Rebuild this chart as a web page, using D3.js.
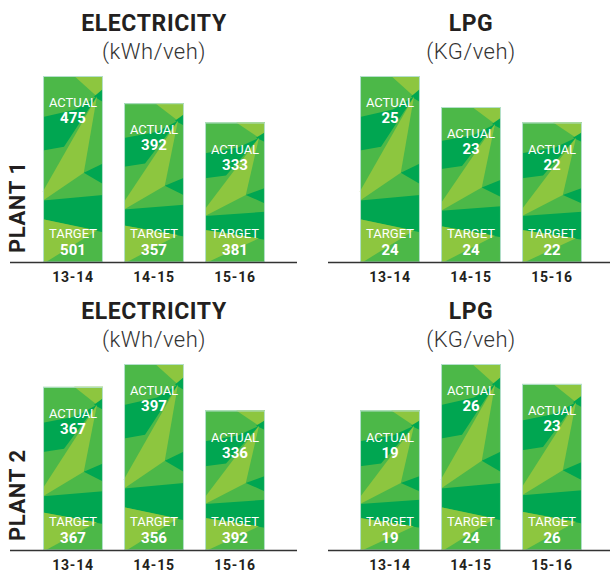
<!DOCTYPE html>
<html lang="en">
<head>
<meta charset="UTF-8">
<title>Plant energy use: Electricity and LPG</title>
<script src="https://d3js.org/d3.v7.min.js"></script>
<style>
    body { margin: 0; background: #fff; font-family: Roboto, Arial, sans-serif; }
    svg { display: block; }
</style>
</head>
<body>
<div id="chart"></div>
<script>
    // data
    const years = ["13-14", "14-15", "15-16"];
    const plants = ["PLANT 1", "PLANT 2"];
    const metrics = ["ELECTRICITY", "LPG"];
    const units = ["(kWh/veh)", "(KG/veh)"];

    const p1ElecActual = [475, 392, 333];
    const p1ElecTarget = [501, 357, 381];
    const p1LpgActual = [25, 23, 22];
    const p1LpgTarget = [24, 24, 22];
    const p2ElecActual = [367, 397, 336];
    const p2ElecTarget = [367, 356, 392];
    const p2LpgActual = [19, 26, 23];
    const p2LpgTarget = [19, 24, 26];

    const actuals = [[p1ElecActual, p1LpgActual], [p2ElecActual, p2LpgActual]];
    const targets = [[p1ElecTarget, p1LpgTarget], [p2ElecTarget, p2LpgTarget]];

    const W = 612, H = 572;
    const dark = "#00a651", mid = "#4cb848", light = "#8dc63f";

    // low-poly texture inside each bar, unit coords (u across, v up from bottom)
    const facets = [
        {c: dark,  pts: [[0, 0.78], [0.55, 0.82], [0.9, 0.89], [0.35, 0.62], [0, 0.60]]},
        {c: light, pts: [[0.52, 1], [1, 1], [1, 0.93], [0.9, 0.89]]},
        {c: dark,  pts: [[0.85, 0.89], [1, 0.93], [1, 0.86]]},
        {c: light, pts: [[0, 0.33], [0, 0.38], [0.9, 0.89], [0.68, 0.48]]},
        {c: dark,  pts: [[0.68, 0.48], [1, 0.53], [1, 0.42]]},
        {c: dark,  pts: [[0, 0.33], [1, 0.36], [1, 0.16], [0, 0.23]]},
        {c: light, pts: [[0, 0.23], [0.9, 0.17], [0.05, 0], [0, 0]]}
    ];

    const svg = d3.select("#chart").append("svg")
        .attr("width", W).attr("height", H);

    const rowBase = [262, 550];
    const colRange = [[32.5, 275.5], [349.5, 592.5]];
    const lineExtent = [[10, 297], [328, 610]];
    const maxBar = 186;

    plants.forEach((plant, r) => {
        const base = rowBase[r];

        svg.append("text")
            .attr("transform", `translate(25,${base - 9}) rotate(-90)`)
            .attr("font-size", 22)
            .attr("font-weight", 700)
            .attr("letter-spacing", 0.6)
            .attr("fill", "#231f20")
            .text(plant);

        metrics.forEach((metric, c) => {
            const act = actuals[r][c], tgt = targets[r][c];
            const g = svg.append("g");

            const x = d3.scaleBand()
                .domain(years)
                .range(colRange[c])
                .paddingInner(0.26)
                .paddingOuter(0.13);

            const [lo, hi] = d3.extent(act);
            const y = d3.scaleLinear()
                .domain([lo - 3 * (hi - lo), hi])
                .range([base, base - maxBar]);

            const cx = (colRange[c][0] + colRange[c][1]) / 2;
            g.append("text")
                .attr("x", cx).attr("y", base - 231)
                .attr("text-anchor", "middle")
                .attr("font-size", 23).attr("font-weight", 700)
                .attr("letter-spacing", 0.6)
                .attr("fill", "#231f20")
                .text(metric);
            g.append("text")
                .attr("x", cx).attr("y", base - 203)
                .attr("text-anchor", "middle")
                .attr("font-size", 22).attr("font-weight", 300)
                .attr("letter-spacing", 0.5)
                .attr("fill", "#333")
                .text(units[c]);

            years.forEach((yr, i) => {
                const x0 = x(yr), bw = x.bandwidth();
                const top = y(act[i]);
                const bar = g.append("g");

                bar.append("rect")
                    .attr("x", x0).attr("y", top)
                    .attr("width", bw).attr("height", base - top)
                    .attr("fill", mid);

                const u = d3.scaleLinear().domain([0, 1]).range([x0, x0 + bw]);
                const v = d3.scaleLinear().domain([0, 1]).range([base, top]);
                bar.selectAll("polygon")
                    .data(facets)
                    .join("polygon")
                    .attr("points", d => d.pts.map(p => `${u(p[0])},${v(p[1])}`).join(" "))
                    .attr("fill", d => d.c);

                bar.append("rect")
                    .attr("x", x0 + 0.5).attr("y", top + 0.5)
                    .attr("width", bw - 1).attr("height", base - top - 0.5)
                    .attr("fill", "none")
                    .attr("stroke", "#b4e0cc")
                    .attr("stroke-width", 1);

                const mx = x0 + bw / 2;
                const lbl = (txt, yy, size, weight) => bar.append("text")
                    .attr("x", mx).attr("y", yy)
                    .attr("text-anchor", "middle")
                    .attr("font-size", size).attr("font-weight", weight)
                    .attr("fill", "#fff")
                    .text(txt);
                lbl("ACTUAL", top + 31, 13, 400);
                lbl(act[i], top + 47, 15, 700);
                lbl("TARGET", base - 24, 13, 400);
                lbl(tgt[i], base - 7, 15, 700);

                g.append("text")
                    .attr("x", mx).attr("y", base + 20)
                    .attr("text-anchor", "middle")
                    .attr("font-size", 14).attr("font-weight", 700)
                    .attr("letter-spacing", 0.8)
                    .attr("fill", "#231f20")
                    .text(yr);
            });

            g.append("line")
                .attr("x1", lineExtent[c][0]).attr("x2", lineExtent[c][1])
                .attr("y1", base + 0.5).attr("y2", base + 0.5)
                .attr("stroke", "#333").attr("stroke-width", 1.5);
        });
    });
</script>
</body>
</html>
